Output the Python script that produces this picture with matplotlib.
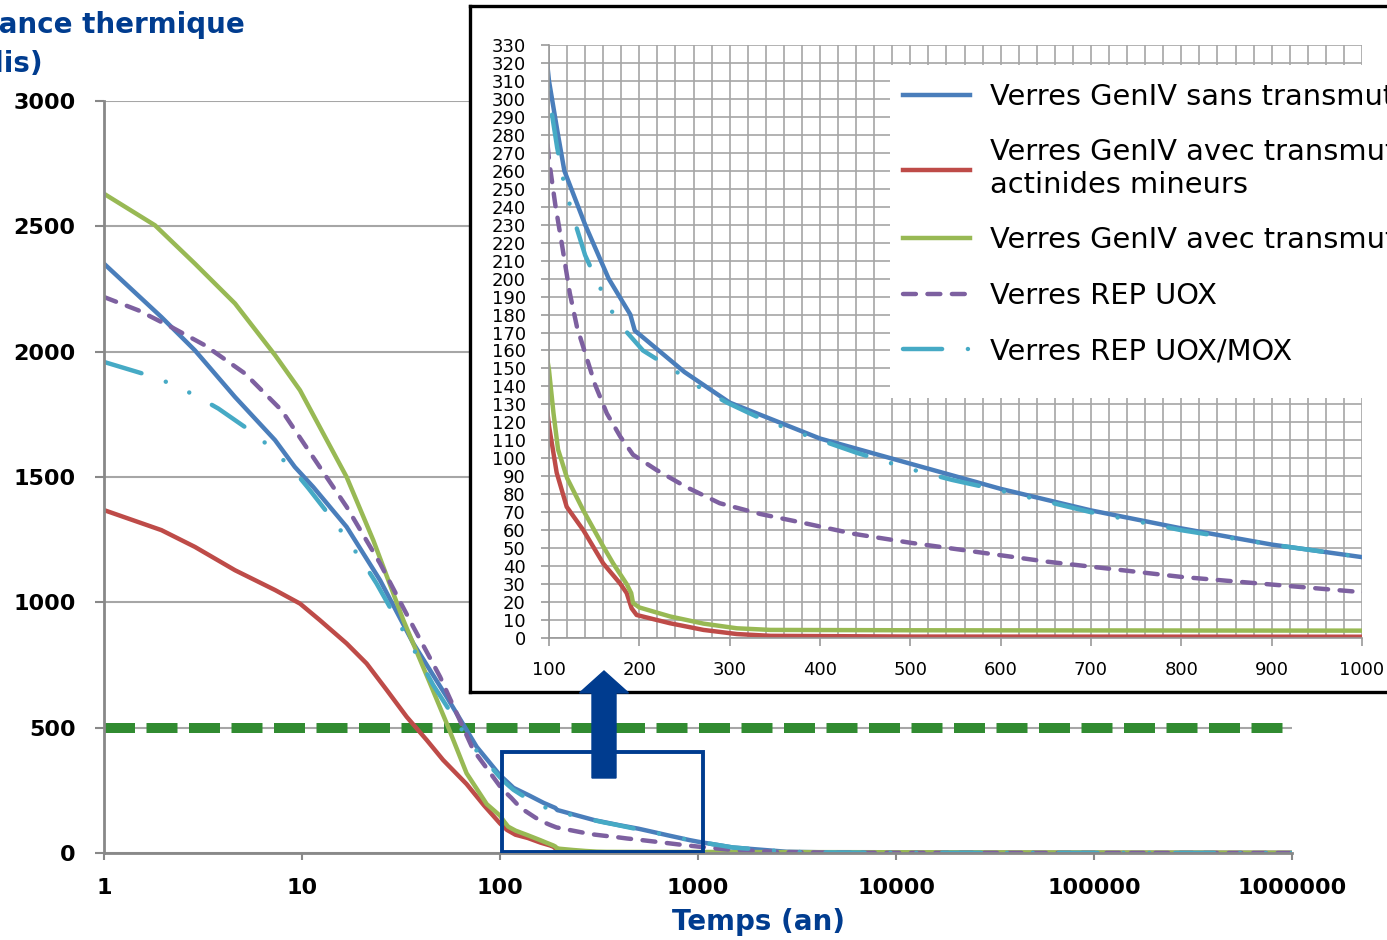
import matplotlib
matplotlib.use("Agg")
import matplotlib.pyplot as plt
from matplotlib.patches import Rectangle, FancyArrow
from matplotlib.ticker import NullLocator

W, H = 1387, 940

# Verres GenIV sans transmutation
t_sans = [1, 1.95, 2.88, 4.59, 7.31, 9.2, 11.4, 16.8, 24.8, 36.5, 53.8, 76.2,
          100, 110, 117, 140, 166, 190, 195, 200, 250, 300, 400, 500, 600, 700,
          800, 900, 1000, 1500, 2800, 5000, 1e4, 1e5, 1e6]
p_sans = [2351, 2138, 2005, 1819, 1647, 1540, 1460, 1301, 1088, 836, 623, 424,
          310, 280, 260, 230, 200, 180, 171, 169, 148, 131, 111, 97, 83, 71,
          61, 52, 45, 22, 5, 2, 1, 0.3, 0.1]

# Verres GenIV avec transmutation des actinides mineurs
t_am = [1, 1.95, 2.88, 4.59, 7.31, 9.77, 12.3, 16.8, 21.2, 26.8, 33.8, 42.7,
        51.6, 67.8, 83, 100, 108.5, 119.6, 138, 160, 178.6, 186, 191.5, 197,
        234, 271, 308, 345, 500, 1000, 1e4, 1e6]
p_am = [1368, 1288, 1221, 1128, 1049, 995, 929, 836, 756, 650, 543, 450,
        371, 275, 190, 118, 92, 73, 60, 41.5, 30.4, 25, 16.5, 12.8,
        8.2, 4.5, 2.2, 1.2, 0.8, 0.7, 0.3, 0.1]

# Verres GenIV avec transmutation de l'americium
t_amer = [1, 1.81, 2.88, 4.59, 7.31, 9.77, 16.8, 22.9, 32.5, 44.3, 53.8, 67.8,
          85.7, 100, 105, 110, 120, 138, 160, 171, 186, 191, 193, 200, 234,
          271, 308, 345, 500, 1000, 1e4, 1e6]
p_amer = [2630, 2504, 2351, 2192, 1986, 1846, 1500, 1248, 929, 677, 517, 318,
          195, 149, 125, 105, 89, 71, 51, 41.5, 30, 25, 19.5, 17, 12,
          8, 5.4, 4.5, 4.3, 4.1, 3, 1]

# Verres REP UOX
t_uox = [1, 1.49, 2.19, 3.24, 5.15, 7.89, 10.5, 16.8, 24.8, 36.5, 49.8, 73.3,
         100, 107, 114, 123, 131, 151, 164, 179, 193, 219, 252, 289, 334, 382,
         437, 500, 651, 800, 1000, 1500, 2500, 5000, 1e4, 1e5, 1e6]
p_uox = [2218, 2165, 2098, 2025, 1913, 1766, 1620, 1381, 1155, 902, 703, 411,
         266, 241, 220, 192, 173, 141, 125, 112, 102, 93.5, 84, 75, 69, 64,
         58, 53, 42.5, 34, 25.5, 12, 4, 1.5, 0.8, 0.3, 0.1]

# Verres REP UOX/MOX
t_mox = [1, 1.67, 2.24, 2.94, 3.78, 5.9, 7.31, 9.0, 10.8, 14.6, 17.4, 20.5,
         23.8, 30.6, 35.2, 40.1, 46, 62.6, 70.8, 100, 109, 117, 127, 140, 150,
         165, 176, 190, 204, 239, 258, 297, 335, 378, 441, 500, 546, 600, 700,
         800, 900, 1000, 1500, 2800, 5000, 1e4, 1e5, 1e6]
p_mox = [1959, 1906, 1869, 1822, 1773, 1667, 1600, 1530, 1454, 1321, 1237, 1155,
         1075, 922, 838, 756, 670, 505, 437, 302, 273, 252, 234, 213, 202,
         186, 176, 168, 160, 149, 142, 131, 122, 114, 103, 94, 88, 82, 70,
         60, 52, 45, 22, 5, 2, 1, 0.3, 0.1]

labels = ["Verres GenIV sans transmutation",
          "Verres GenIV avec transmutation des\nactinides mineurs",
          "Verres GenIV avec transmutation de l'américium",
          "Verres REP UOX",
          "Verres REP UOX/MOX"]

seuil = 500
t_seuil = [1, 1e6]

# zone agrandie dans l'encart
zoom_t = (102, 1065)
zoom_p = (5, 404)

x_ticks = [1, 10, 100, 1000, 10000, 100000, 1000000]
y_ticks = [0, 500, 1000, 1500, 2000, 2500, 3000]
ins_x_ticks = list(range(100, 1001, 100))
ins_y_ticks = list(range(0, 331, 10))

bleu = '#4A7EBB'
rouge = '#BE4B48'
vert = '#98B954'
violet = '#7D60A0'
cyan = '#46AAC5'
bleu_fonce = '#003C8F'
gris = '#999999'

styles = [
    dict(color=bleu, ls='-'),
    dict(color=rouge, ls='-'),
    dict(color=vert, ls='-'),
    dict(color=violet, ls=(0, (2.9, 2.6)), dash_capstyle='round'),
    dict(color=cyan, ls=(0, (8.8, 5.8, 0.01, 5.8, 0.01, 5.8)), dash_capstyle='round'),
]
series = [(t_sans, p_sans), (t_am, p_am), (t_amer, p_amer), (t_uox, p_uox), (t_mox, p_mox)]


def fx(px):
    return px / W


def fy(py):
    return 1 - py / H


fig = plt.figure(figsize=(W / 100, H / 100), dpi=100)

# graphique principal
ax = fig.add_axes([fx(104), fy(853), fx(1292) - fx(104), fy(101) - fy(853)], zorder=0)
ax.plot(t_seuil, [seuil, seuil], color='#318B31', lw=7.2, ls=(0, (3.1, 1.15)),
        dash_capstyle='butt', zorder=1.5)
for (t, p), st in zip(series, styles):
    ax.plot(t, p, lw=3.2, zorder=2, **st)
ax.set_xscale('log')
ax.set_xlim(1, 1e6)
ax.set_ylim(0, 3000)
ax.set_xticks(x_ticks)
ax.set_xticklabels([str(v) for v in x_ticks])
ax.xaxis.set_minor_locator(NullLocator())
ax.set_yticks(y_ticks)
ax.set_yticklabels([str(v) for v in y_ticks])
for lab in ax.get_xticklabels() + ax.get_yticklabels():
    lab.set_fontweight('bold')
    lab.set_fontsize(16)
ax.tick_params(axis='y', length=6.5, width=1.5, color='#888888', pad=14)
ax.tick_params(axis='x', length=5, width=1.5, color='#888888', pad=13)
ax.yaxis.grid(True, color='#a6a6a6', lw=1.5)
ax.set_axisbelow(True)
for s in ['top', 'right']:
    ax.spines[s].set_visible(False)
for s in ['left', 'bottom']:
    ax.spines[s].set_color('#888888')
    ax.spines[s].set_linewidth(2)
ax.add_patch(Rectangle((zoom_t[0], zoom_p[0]), zoom_t[1] - zoom_t[0], zoom_p[1] - zoom_p[0],
                       fill=False, edgecolor=bleu_fonce, lw=2.8, zorder=4))

fig.text(fx(-84), fy(33), "Puissance thermique", color=bleu_fonce, fontsize=20,
         fontweight='bold', va='baseline', ha='left')
fig.text(fx(-94), fy(72), "(W/colis)", color=bleu_fonce, fontsize=20,
         fontweight='bold', va='baseline', ha='left')
fig.text(fx(758), fy(922), "Temps (an)", color=bleu_fonce, fontsize=20,
         fontweight='bold', va='center', ha='center')

# cadre de l'encart
frame = fig.add_axes([fx(470), fy(692), 1.0, fy(6) - fy(692)], zorder=1)
frame.set_xticks([])
frame.set_yticks([])
for s in frame.spines.values():
    s.set_color('black')
    s.set_linewidth(2.4)

# encart 100 - 1000 ans
ins = fig.add_axes([fx(549), fy(638), fx(1362) - fx(549), fy(45) - fy(638)], zorder=2)
handles = []
for (t, p), st in zip(series, styles):
    h, = ins.plot(t, p, lw=3.2, zorder=2, **st)
    handles.append(h)
ins.set_xlim(100, 1000)
ins.set_ylim(0, 330)
ins.set_xticks(ins_x_ticks)
ins.set_xticks(list(range(100, 1001, 20)), minor=True)
ins.set_yticks(ins_y_ticks)
ins.set_xticklabels([str(v) for v in ins_x_ticks], fontsize=13)
ins.set_yticklabels([str(v) for v in ins_y_ticks], fontsize=13)
ins.tick_params(which='major', length=5.8, width=1.2, color=gris, pad=11)
ins.tick_params(which='minor', length=0)
ins.grid(True, which='both', color='#a6a6a6', lw=1.2)
ins.set_axisbelow(True)
for s in ['top', 'right']:
    ins.spines[s].set_visible(False)
for s in ['left', 'bottom']:
    ins.spines[s].set_color(gris)
    ins.spines[s].set_linewidth(1.2)

ins.add_patch(Rectangle((0.419, 0.405), 0.7, 0.561, transform=ins.transAxes,
                        facecolor='white', edgecolor='none', zorder=3, clip_on=False))
ins.legend(handles, labels, loc='upper left', bbox_to_anchor=(fx(903), fy(83)),
           bbox_transform=fig.transFigure, frameon=False, fontsize=20.8,
           handlelength=2.32, handletextpad=0.69, labelspacing=0.95,
           borderpad=0, borderaxespad=0)

arrow = FancyArrow(fx(604), fy(778), 0, fy(671) - fy(778), width=24 / W,
                   head_width=49 / W, head_length=22 / H, length_includes_head=True,
                   color=bleu_fonce, transform=fig.transFigure, zorder=5)
fig.add_artist(arrow)

fig.savefig("out.png", dpi=100)
